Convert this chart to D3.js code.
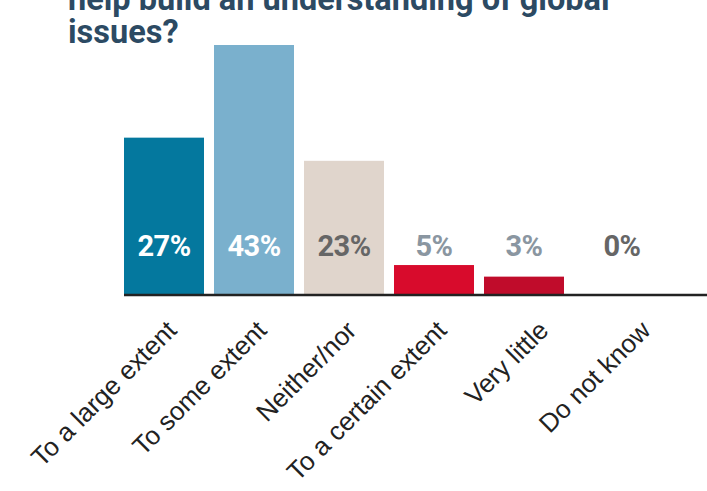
<!DOCTYPE html>
<html>
<head>
<meta charset="utf-8">
<script src="https://cdn.jsdelivr.net/npm/d3@7"></script>
<style>
  body { margin: 0; background: #fff; }
  svg { display: block; }
</style>
</head>
<body>
<div id="chart"></div>
<script>
// data
var categories = ["To a large extent", "To some extent", "Neither/nor", "To a certain extent", "Very little", "Do not know"];
var values = [27, 43, 23, 5, 3, 0];
var barColors = ["#04789e", "#7ab0cd", "#e0d5cc", "#d80b2c", "#c00c2b", "#c00c2b"];
var labelColors = ["#ffffff", "#ffffff", "#666666", "#8a96a1", "#8a96a1", "#666666"];
var titleLines = ["help build an understanding of global", "issues?"];

var W = 707, H = 491;
var margin = {top: 0, right: 0, bottom: 197, left: 124};

var svg = d3.select("#chart").append("svg")
    .attr("width", W)
    .attr("height", H);

// 6 bars of 80px with 10px gaps
var x = d3.scaleBand()
    .domain(categories)
    .range([margin.left, margin.left + 530])
    .paddingInner(10 / 90)
    .paddingOuter(0);

var baseY = H - margin.bottom;
var y = d3.scaleLinear().domain([0, 43]).range([baseY, 45]);

// title (first line is cut off at the top)
svg.selectAll(".title")
    .data(titleLines)
  .enter().append("text")
    .attr("class", "title")
    .attr("x", 68)
    .attr("y", function(d, i) { return 10 + i * 33; })
    .style("font-family", "Roboto, sans-serif")
    .style("font-weight", "bold")
    .style("font-size", "32.5px")
    .attr("fill", "#2c4a63")
    .text(function(d) { return d; });

var data = categories.map(function(c, i) { return {name: c, value: values[i], i: i}; });

svg.selectAll(".bar")
    .data(data)
  .enter().append("rect")
    .attr("class", "bar")
    .attr("x", function(d) { return x(d.name); })
    .attr("width", x.bandwidth())
    .attr("y", function(d) { return y(d.value); })
    .attr("height", function(d) { return baseY - y(d.value); })
    .attr("fill", function(d) { return barColors[d.i]; });

// value labels
svg.selectAll(".val")
    .data(data)
  .enter().append("text")
    .attr("class", "val")
    .attr("x", function(d) { return x(d.name) + x.bandwidth() / 2 + (d.value == 0 ? 8 : 0); })
    .attr("y", 256)
    .attr("text-anchor", "middle")
    .style("font-family", "Roboto, sans-serif")
    .style("font-weight", "bold")
    .style("font-size", "29px")
    .style("letter-spacing", "-0.5px")
    .attr("fill", function(d) { return labelColors[d.i]; })
    .text(function(d) { return d.value + "%"; });

// x axis
var axis = svg.append("g")
    .attr("transform", "translate(0," + (baseY + 1) + ")")
    .call(d3.axisBottom(x).tickSize(0).tickPadding(0));

axis.select(".domain")
    .attr("d", "M" + margin.left + ",0H" + W)
    .attr("stroke", "#222")
    .attr("stroke-width", 2.5);

// last labels drift right in the original
axis.selectAll(".tick text")
    .attr("text-anchor", "end")
    .attr("dy", 0)
    .attr("transform", function(d, i) { return "translate(" + (14 + (i > 3 ? (i - 3) * 12 : 0)) + ",37) rotate(-45)"; })
    .style("font-family", "'Liberation Sans', Arial, sans-serif")
    .style("font-size", "26px")
    .attr("fill", "#222");
</script>
</body>
</html>
